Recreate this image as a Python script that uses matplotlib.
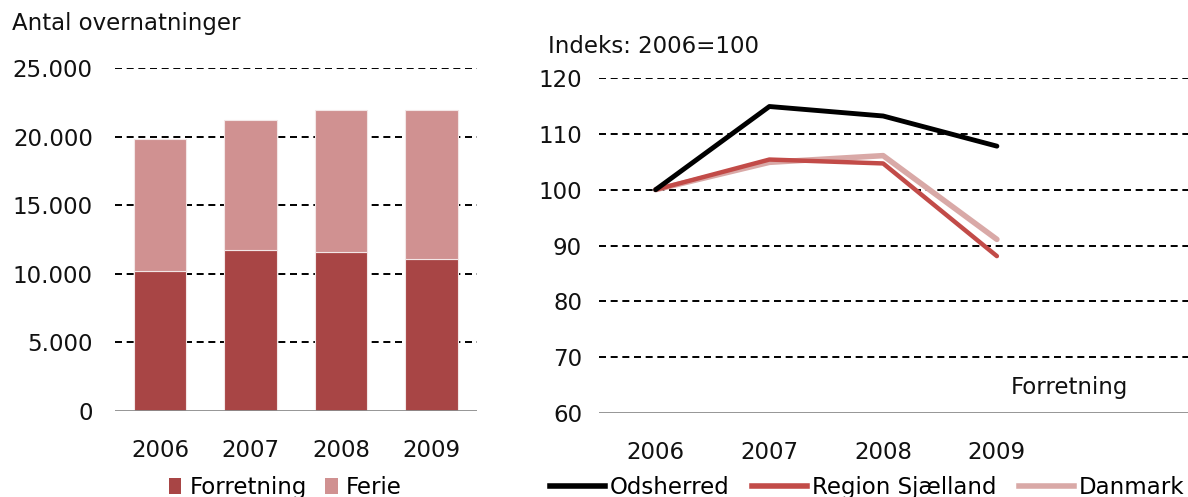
import numpy as np
import matplotlib.pyplot as plt
from matplotlib.patches import Patch
from matplotlib.lines import Line2D

plt.rcParams['font.family'] = ['DejaVu Sans']

years = ['2006', '2007', '2008', '2009']

# venstre: antal overnatninger
forretning = [10200, 11750, 11600, 11050]
ferie = [9650, 9450, 10350, 10900]

# hoejre: indeks 2006=100, forretning
odsherred = [100, 114.9, 113.2, 107.8]
region_sjaelland = [100, 105.4, 104.7, 88.1]
danmark = [100, 104.9, 106.1, 91.1]

c_forr = '#A84545'
c_ferie = '#D09191'
c_ods = '#000000'
c_reg = '#C24B48'
c_dk = '#D9A9A7'
fs = 16.5
dash = (0, (3.6, 2.4))

fig = plt.figure(figsize=(11.88, 4.97), dpi=100)

# ---- left chart
ax1 = fig.add_axes([0.0968, 0.173, 0.3047, 0.690])
x = np.arange(len(years))
ax1.bar(x, forretning, width=0.58, color=c_forr, edgecolor='#f3e6e6', linewidth=0.8, zorder=3)
ax1.bar(x, ferie, width=0.58, bottom=forretning, color=c_ferie, edgecolor='#f3e6e6', linewidth=0.8, zorder=3)
ax1.set_xlim(-0.5, 3.5)
ax1.set_ylim(0, 25000)
ax1.set_yticks(np.arange(0, 25001, 5000))
ax1.set_yticklabels(['{:,}'.format(v).replace(',', '.') for v in range(0, 25001, 5000)])
ax1.set_xticks(x)
ax1.set_xticklabels(years)
for v in range(5000, 25001, 5000):
    ax1.axhline(v, color='black', lw=1.4, ls=dash, zorder=1)
ax1.axhline(0, color='#8c8c8c', lw=2, zorder=4)
for s in ax1.spines.values():
    s.set_visible(False)
ax1.tick_params(axis='both', length=0, labelsize=fs, colors='#111111')
ax1.tick_params(axis='y', pad=16)
ax1.tick_params(axis='x', pad=20)
fig.text(0.010, 0.952, 'Antal overnatninger', fontsize=fs, va='center', ha='left', color='#111111')

h1 = [Patch(facecolor=c_forr), Patch(facecolor=c_ferie)]
fig.legend(h1, ['Forretning', 'Ferie'], loc='center', bbox_to_anchor=(0.24, 0.02),
           ncol=2, frameon=False, fontsize=fs, handlelength=0.55, handleheight=0.7,
           handletextpad=0.35, columnspacing=0.8)

# ---- right chart
ax2 = fig.add_axes([0.504, 0.169, 0.496, 0.674])
ax2.plot(x, odsherred, color=c_ods, lw=3.5, zorder=5, solid_capstyle='round')
ax2.plot(x, danmark, color=c_dk, lw=4, zorder=3, solid_capstyle='round')
ax2.plot(x, region_sjaelland, color=c_reg, lw=3.2, zorder=4, solid_capstyle='round')
ax2.set_xlim(-0.5, 4.68)
ax2.set_ylim(60, 120)
ax2.set_yticks(range(60, 121, 10))
ax2.set_xticks(x)
ax2.set_xticklabels(years)
for v in range(70, 121, 10):
    ax2.axhline(v, color='black', lw=1.4, ls=dash, zorder=1)
ax2.axhline(60, color='#8c8c8c', lw=2, zorder=4)
for s in ax2.spines.values():
    s.set_visible(False)
ax2.tick_params(axis='both', length=0, labelsize=fs, colors='#111111')
ax2.tick_params(axis='y', pad=12)
ax2.tick_params(axis='x', pad=20)
ax2.text(3.64, 64.5, 'Forretning', fontsize=fs, ha='center', va='center', color='#111111')
fig.text(0.461, 0.907, 'Indeks: 2006=100', fontsize=fs, va='center', ha='left', color='#111111')

h2 = [Line2D([], [], color=c_ods, lw=4), Line2D([], [], color=c_reg, lw=4), Line2D([], [], color=c_dk, lw=4)]
fig.legend(h2, ['Odsherred', 'Region Sjælland', 'Danmark'], loc='center', bbox_to_anchor=(0.73, 0.02),
           ncol=3, frameon=False, fontsize=fs, handlelength=2.4, handletextpad=0.2, columnspacing=1.0)

fig.savefig('out.png', dpi=100)
